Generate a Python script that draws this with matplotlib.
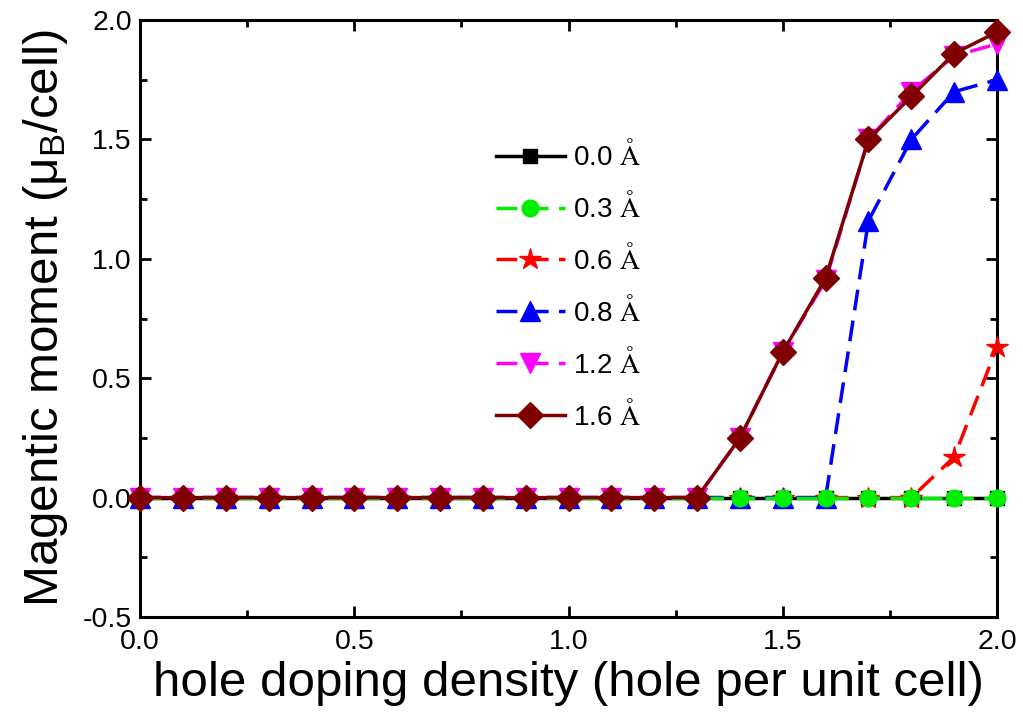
import numpy as np
import matplotlib
matplotlib.use('Agg')
import matplotlib.pyplot as plt
from matplotlib.ticker import MultipleLocator, FormatStrFormatter

plt.rcParams['font.family'] = ['Liberation Sans', 'DejaVu Sans']
plt.rcParams['mathtext.fontset'] = 'stix'

# hole doping density
x = np.round(np.arange(0, 2.01, 0.1), 1)

m_00 = [0.0] * 21
m_03 = [0.0] * 21
m_06 = [0.0] * 19 + [0.17, 0.63]
m_08 = [0.0] * 17 + [1.16, 1.50, 1.70, 1.75]
m_12 = [0.0] * 14 + [0.25, 0.61, 0.91, 1.50, 1.70, 1.85, 1.90]
m_16 = [0.0] * 14 + [0.25, 0.61, 0.92, 1.50, 1.68, 1.86, 1.95]

labels = ['0.0', '0.3', '0.6', '0.8', '1.2', '1.6']
series = [m_00, m_03, m_06, m_08, m_12, m_16]
colors = ['black', '#00ee00', 'red', 'blue', 'magenta', '#800000']
markers = ['s', 'o', '*', '^', 'v', 'D']
msizes = [10, 12, 16, 14, 14, 13]
styles = ['-', '--', '--', '--', '--', '-']
zorders = [2, 6, 3, 4, 5, 7]

fig = plt.figure(figsize=(10.23, 7.17), dpi=100)
ax = fig.add_axes([0.137, 0.1395, 0.8376, 0.8325])

for y, lab, c, mk, ms, ls, zo in zip(series, labels, colors, markers, msizes, styles, zorders):
    kw = dict(dashes=(6, 3)) if ls == '--' else {}
    ax.plot(x, y, ls, color=c, marker=mk, markersize=ms, lw=2.5, zorder=zo,
            clip_on=False, label=lab + r' $\mathrm{\AA}$', **kw)

ax.set_xlim(0, 2.0)
ax.set_ylim(-0.5, 2.0)
ax.xaxis.set_major_locator(MultipleLocator(0.5))
ax.xaxis.set_minor_locator(MultipleLocator(0.25))
ax.yaxis.set_major_locator(MultipleLocator(0.5))
ax.yaxis.set_minor_locator(MultipleLocator(0.25))
ax.tick_params(which='both', direction='in', top=True, right=True, width=2)
ax.tick_params(which='major', length=8, labelsize=20.5)
ax.tick_params(axis='x', which='major', pad=9)
ax.tick_params(axis='y', which='major', pad=6)
ax.tick_params(which='minor', length=5)
ax.xaxis.set_major_formatter(FormatStrFormatter('%.1f'))
ax.yaxis.set_major_formatter(FormatStrFormatter('%.1f'))
for s in ax.spines.values():
    s.set_linewidth(2.2)

ax.set_xlabel('hole doping density (hole per unit cell)', fontsize=35.5, labelpad=4)
ax.set_ylabel(r'Magentic moment ($\mathregular{\mu_B}$/cell)', fontsize=35.5, labelpad=9)

leg = ax.legend(loc='upper left', bbox_to_anchor=(0.402, 0.817), frameon=False,
                borderaxespad=0, fontsize=20, handlelength=2.5, labelspacing=0.75,
                handletextpad=0.3)

fig.savefig('out.png', dpi=100)
